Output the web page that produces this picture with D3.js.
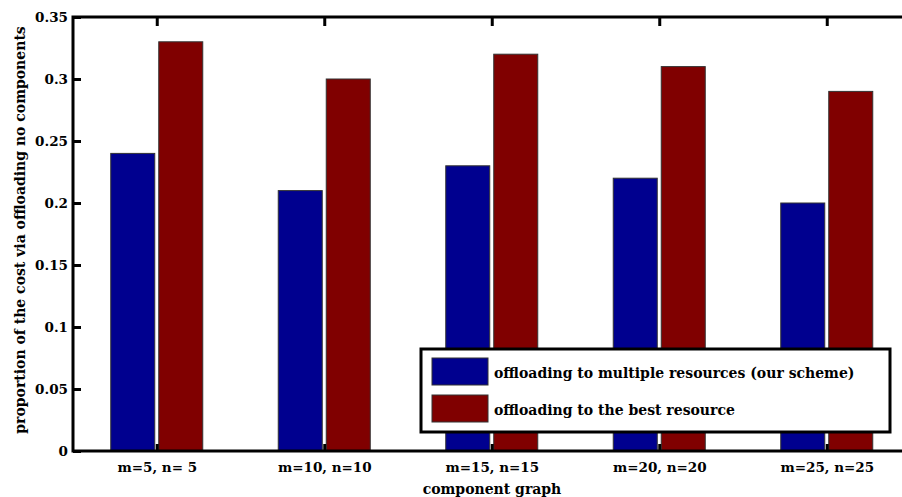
<!DOCTYPE html>
<html><head><meta charset="utf-8">
<script src="https://cdn.jsdelivr.net/npm/d3@7"></script>
<style>
html,body{margin:0;padding:0;background:#fff;}
svg{display:block;}
text{font-family:"DejaVu Serif",serif;font-weight:bold;fill:#000;}
</style></head>
<body><svg id="chart" width="902" height="497"></svg>
<script>
const categories = ["m=5, n= 5", "m=10, n=10", "m=15, n=15", "m=20, n=20", "m=25, n=25"];
const seriesNames = ["offloading to multiple resources (our scheme)", "offloading to the best resource"];
const multipleResources = [0.24, 0.21, 0.23, 0.22, 0.20];
const bestResource = [0.33, 0.30, 0.32, 0.31, 0.29];
const yTicks = [0, 0.05, 0.1, 0.15, 0.2, 0.25, 0.3, 0.35];
const yTickLabels = ["0", "0.05", "0.1", "0.15", "0.2", "0.25", "0.3", "0.35"];
const colors = ["#00008f", "#800000"];

const svg = d3.select("#chart");
const pLeft = 73, pTop = 17, pBottom = 451, pRight = 910.5;
const FONT = "DejaVu Serif";

const x = d3.scaleLinear().domain([0.5, 5.5]).range([pLeft, pRight]);
const y = d3.scaleLinear().domain([0, 0.35]).range([pBottom, pTop]);
const series = [multipleResources, bestResource];
const barW = 44, offsets = [-24, 24];

// bars
series.forEach((vals, si) => {
  svg.append("g").selectAll("rect").data(vals).join("rect")
    .attr("x", (d, i) => x(i + 1) + offsets[si] - barW / 2)
    .attr("y", d => y(d))
    .attr("width", barW)
    .attr("height", d => y(0) - y(d))
    .attr("fill", colors[si])
    .attr("stroke", "#333")
    .attr("stroke-width", 1);
});

// axes
const yAxis = d3.axisLeft(y).tickValues(yTicks).tickFormat((d, i) => yTickLabels[i]).tickSizeInner(-8).tickSizeOuter(0).tickPadding(5);
const gy = svg.append("g").attr("transform", `translate(${pLeft},0)`).call(yAxis);
gy.selectAll(".tick line").attr("stroke", "#000").attr("stroke-width", 3);
gy.select(".domain").remove();
gy.selectAll(".tick text").attr("font-size", 13.5).attr("font-family", FONT).attr("font-weight", "bold").attr("fill", "#000");

const xAxis = d3.axisBottom(x).tickValues([1, 2, 3, 4, 5]).tickFormat((d, i) => categories[i]).tickSizeInner(-7).tickSizeOuter(0).tickPadding(11);
const gx = svg.append("g").attr("transform", `translate(0,${pBottom})`).call(xAxis);
gx.selectAll(".tick line").attr("stroke", "#000").attr("stroke-width", 3);
gx.select(".domain").remove();
gx.selectAll(".tick text").attr("font-size", 13.5).attr("font-family", FONT).attr("font-weight", "bold").attr("fill", "#000");

// top ticks
const gt = svg.append("g").attr("transform", `translate(0,${pTop})`).call(d3.axisTop(x).tickValues([1,2,3,4,5]).tickSizeInner(-9).tickSizeOuter(0).tickFormat(""));
gt.selectAll(".tick line").attr("stroke", "#000").attr("stroke-width", 3);
gt.select(".domain").remove();

// frame
svg.append("rect").attr("x", pLeft).attr("y", pTop).attr("width", pRight - pLeft).attr("height", pBottom - pTop)
  .attr("fill", "none").attr("stroke", "#000").attr("stroke-width", 3);

// axis labels
svg.append("text").attr("transform", `translate(25,230) rotate(-90)`).attr("text-anchor", "middle")
  .attr("font-size", 14)
  .text("proportion of the cost via offloading no components");
svg.append("text").attr("x", 492).attr("y", 494).attr("text-anchor", "middle").attr("font-size", 14)
  .text("component graph");

// legend
const lg = svg.append("g");
lg.append("rect").attr("x", 421).attr("y", 349).attr("width", 469).attr("height", 83)
  .attr("fill", "#fff").attr("stroke", "#000").attr("stroke-width", 3);
seriesNames.forEach((name, i) => {
  const yy = 358 + i * 37;
  lg.append("rect").attr("x", 432).attr("y", yy).attr("width", 56).attr("height", 27)
    .attr("fill", colors[i]).attr("stroke", "#333").attr("stroke-width", 1);
  lg.append("text").attr("x", 494).attr("y", yy + 20).attr("font-size", 14).text(name);
});
</script></body></html>
